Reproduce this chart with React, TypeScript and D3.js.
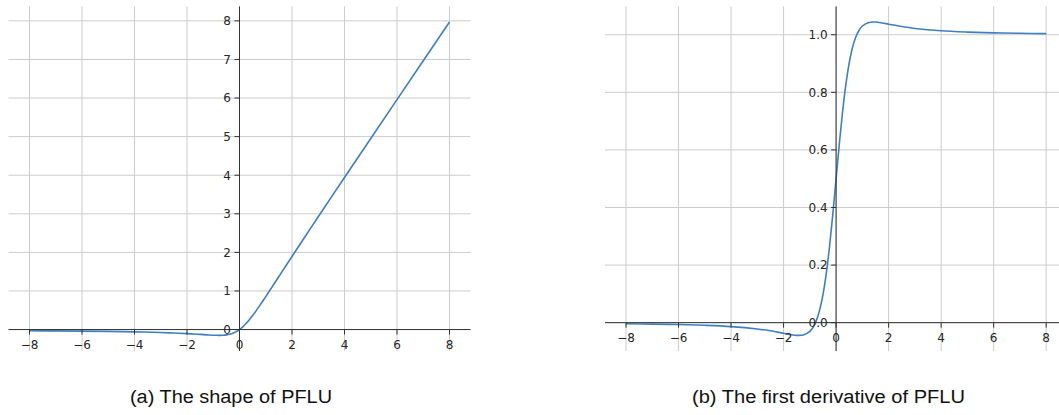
import React from "react";
import * as d3 from "d3";

const width = 1059;
const height = 415;

// x positions
const xs = [-8, -7, -6, -5, -4, -3, -2.5, -2, -1.75, -1.5, -1.25, -1, -0.875, -0.75, -0.625, -0.5, -0.375, -0.25, -0.125,
  0, 0.125, 0.25, 0.375, 0.5, 0.625, 0.75, 0.875, 1, 1.25, 1.5, 1.75, 2, 2.5, 3, 4, 5, 6, 7, 8];

// (a) PFLU
const pfluValues = [-0.0309, -0.0352, -0.0408, -0.0485, -0.0597, -0.077, -0.0894, -0.1056, -0.1153, -0.126, -0.137, -0.1464,
  -0.1494, -0.15, -0.1469, -0.1382, -0.1217, -0.0947, -0.0548,
  0, 0.0703, 0.1553, 0.2533, 0.3618, 0.4781, 0.6, 0.7256, 0.8536, 1.113, 1.374, 1.6347, 1.8944, 2.4106, 2.923, 3.9403,
  4.9515, 5.9592, 6.9648, 7.9691];

// (b) first derivative
const derivValues = [-0.0038, -0.0049, -0.0065, -0.0092, -0.0136, -0.0218, -0.0283, -0.0367, -0.041, -0.044, -0.0428, -0.0303,
  -0.0157, 0.008, 0.0445, 0.0975, 0.1705, 0.2646, 0.3769,
  0.5, 0.6231, 0.7354, 0.8295, 0.9025, 0.9556, 0.992, 1.0157, 1.0303, 1.0428, 1.044, 1.041, 1.0367, 1.0283, 1.0218, 1.0136,
  1.0092, 1.0065, 1.0049, 1.0038];

const xTicks = [-8, -6, -4, -2, 0, 2, 4, 6, 8];
const yTicksA = [0, 1, 2, 3, 4, 5, 6, 7, 8];
const yTicksB = [0, 0.2, 0.4, 0.6, 0.8, 1.0];

const captionA = "(a) The shape of PFLU";
const captionB = "(b) The first derivative of PFLU";

const lineColor = "#3f7fbf";
const gridColor = "#cccccc";
const axisColor = "#333333";
const tickFont = "DejaVu Sans";

type PanelProps = {
  values: number[];
  xRange: [number, number];
  yDomain: [number, number];
  yTicks: number[];
  yFormat: (v: number) => string;
  caption: string;
  captionX: number;
  captionLen: number;
};

function Panel(props: PanelProps) {
  const { values, xRange, yDomain, yTicks, yFormat, caption, captionX, captionLen } = props;
  const x = d3.scaleLinear().domain([-8.8, 8.8]).range(xRange);
  const y = d3.scaleLinear().domain(yDomain).range([351, 6.4]);
  const [x0, x1] = xRange;
  const [yb, yt] = y.range();

  const line = d3.line<number>()
    .x((d, i) => x(xs[i]))
    .y((d) => y(d))
    .curve(d3.curveCatmullRom.alpha(0.5));

  const fmtX = (v: number) => (v < 0 ? "\u2212" + Math.abs(v) : String(v));
  const zx = x(0);
  const zy = y(0);

  return (
    <g>
      {/* grid */}
      {xTicks.map((t) => (
        <line key={"gx" + t} x1={x(t)} x2={x(t)} y1={yt} y2={yb} stroke={gridColor} strokeWidth={1} />
      ))}
      {yTicks.map((t) => (
        <line key={"gy" + t} x1={x0} x2={x1} y1={y(t)} y2={y(t)} stroke={gridColor} strokeWidth={1} />
      ))}

      {/* curve */}
      <path d={line(values) || ""} fill="none" stroke={lineColor} strokeWidth={1.6} />

      {/* spines through zero */}
      <line x1={zx} x2={zx} y1={yt} y2={yb} stroke={axisColor} strokeWidth={1} />
      <line x1={x0} x2={x1} y1={zy} y2={zy} stroke={axisColor} strokeWidth={1} />

      {xTicks.map((t) => (
        <g key={"tx" + t}>
          <line x1={x(t)} x2={x(t)} y1={zy} y2={zy + 5} stroke={axisColor} strokeWidth={1} />
          <text x={x(t)} y={zy + 19} textAnchor="middle" fontFamily={tickFont} fontSize={12} fill="#262626">
            {fmtX(t)}
          </text>
        </g>
      ))}
      {yTicks.map((t) => (
        <g key={"ty" + t}>
          <line x1={zx - 5} x2={zx} y1={y(t)} y2={y(t)} stroke={axisColor} strokeWidth={1} />
          <text x={zx - 8.5} y={y(t)} dy="0.36em" textAnchor="end" fontFamily={tickFont} fontSize={12} fill="#262626">
            {yFormat(t)}
          </text>
        </g>
      ))}

      <text x={captionX} y={403} textAnchor="middle" fontFamily="Liberation Sans" fontSize={18} fill="#111"
        textLength={captionLen} lengthAdjust="spacingAndGlyphs">
        {caption}
      </text>
    </g>
  );
}

export default function App() {
  return (
    <svg width={width} height={height} style={{ position: "absolute", left: 0, top: 0, background: "#fff" }}>
      <Panel
        values={pfluValues}
        xRange={[8.5, 470.5]}
        yDomain={[-0.556, 8.375]}
        yTicks={yTicksA}
        yFormat={(v) => String(v)}
        caption={captionA}
        captionX={231}
        captionLen={202}
      />
      <Panel
        values={derivValues}
        xRange={[605, 1067.2]}
        yDomain={[-0.0984, 1.0984]}
        yTicks={yTicksB}
        yFormat={d3.format(".1f")}
        caption={captionB}
        captionX={828.5}
        captionLen={273}
      />
    </svg>
  );
}
